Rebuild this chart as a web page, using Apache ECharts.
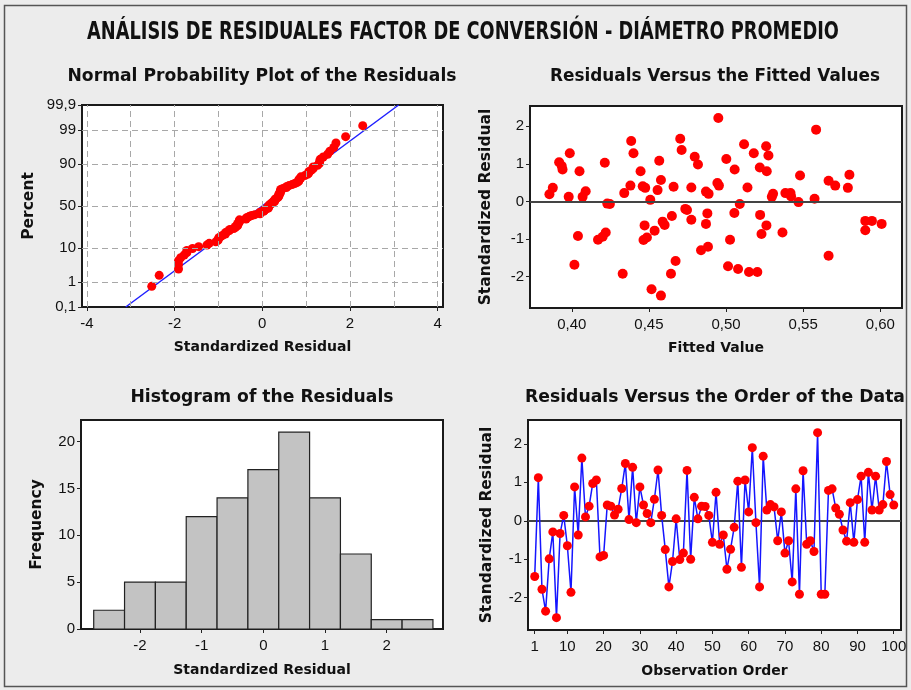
<!DOCTYPE html>
<html><head><meta charset="utf-8">
<script src="https://cdn.jsdelivr.net/npm/echarts@6/dist/echarts.min.js"></script>
<style>html,body{margin:0;padding:0;background:#ececec}#c{width:911px;height:690px}</style>
</head><body><div id="c"></div>
<script>
// ---------------- DATA ----------------
const mainTitle = 'ANÁLISIS DE RESIDUALES FACTOR DE CONVERSIÓN - DIÁMETRO PROMEDIO';
const panelTitles = ['Normal Probability Plot of the Residuals','Residuals Versus the Fitted Values','Histogram of the Residuals','Residuals Versus the Order of the Data'];

// standardized residuals in observation order (1..100)
const residuals = [
 -1.45, 1.12,-1.78,-2.35,-0.99,-0.29,-2.52,-0.33, 0.14,-0.65,
 -1.86, 0.88,-0.37, 1.63, 0.10, 0.38, 0.97, 1.06,-0.94,-0.90,
  0.41, 0.38, 0.15, 0.30, 0.84, 1.49, 0.03, 1.39,-0.05, 0.88,
  0.41, 0.19,-0.05, 0.56, 1.32, 0.14,-0.75,-1.72,-1.06, 0.05,
 -1.01,-0.84, 1.31,-1.00, 0.61, 0.05, 0.38, 0.37, 0.14,-0.56,
  0.74,-0.61,-0.37,-1.26,-0.74,-0.17, 1.03,-1.21, 1.06, 0.23,
  1.90,-0.05,-1.72, 1.68, 0.28, 0.42, 0.36,-0.52, 0.23,-0.84,
 -0.52,-1.59, 0.83,-1.91, 1.30,-0.61,-0.52,-0.80, 2.29,-1.91,
 -1.91, 0.79, 0.83, 0.33, 0.17,-0.24,-0.53, 0.47,-0.56, 0.55,
  1.16,-0.56, 1.26, 0.28, 1.16, 0.28, 0.42, 1.54, 0.68, 0.41
];

// residuals versus fitted values
const fittedX = [
 0.3855,0.3877,0.3918,0.3935,0.3940,0.3987,0.3980,0.4017,0.4040,0.4050,
 0.4070,0.4090,0.4170,0.4200,0.4220,0.4214,0.4230,0.4247,0.4330,0.4340,
 0.4385,0.4400,0.4380,0.4446,0.4460,0.4476,0.4472,0.4465,0.4487,0.4509,
 0.4517,0.4537,0.4556,0.4567,0.4578,0.4578,0.4589,0.4602,0.4643,0.4649,
 0.4660,0.4673,0.4703,0.4712,0.4736,0.4747,0.4775,0.4775,0.4797,0.4818,
 0.4838,0.4870,0.4879,0.4870,0.4883,0.4887,0.4944,0.4954,0.4950,0.5002,
 0.5013,0.5026,0.5056,0.5054,0.5089,0.5078,0.5117,0.5139,0.5149,0.5180,
 0.5203,0.5219,0.5221,0.5230,0.5260,0.5264,0.5262,0.5275,0.5297,0.5305,
 0.5366,0.5385,0.5418,0.5422,0.5470,0.5480,0.5574,0.5584,0.5665,0.5665,
 0.5708,0.5790,0.5800,0.5903,0.5903,0.5946,0.6009
];
const fittedRes = [
  0.19, 0.36, 1.04, 0.94, 0.85, 1.28, 0.12,-1.69,-0.92, 0.80,
  0.12, 0.27,-1.02,-0.94,-0.83, 1.03,-0.06,-0.07,-1.93, 0.22,
  1.61, 1.28, 0.42, 0.80, 0.40, 0.36,-0.64,-1.03,-0.96, 0.04,
 -2.34,-0.78, 0.30, 1.08, 0.57,-2.51,-0.54,-0.63,-1.93,-0.39,
  0.39,-1.59, 1.67, 1.37,-0.20,-0.23, 0.37,-0.49, 1.19, 0.98,
 -1.30, 0.26,-0.32,-0.60,-1.21, 0.20, 0.49, 0.42, 2.22, 1.13,
 -1.73,-1.02, 0.85,-0.31,-0.07,-1.80, 1.52, 0.37,-1.88, 1.28,
 -1.88, 0.90,-0.36,-0.87, 1.47, 0.80,-0.64, 1.22, 0.12, 0.20,
 -0.83, 0.22, 0.22, 0.13,-0.02, 0.69, 0.07, 1.91, 0.55,-1.45,
  0.42, 0.36, 0.71,-0.52,-0.77,-0.52,-0.60
];

// histogram
const histCenters = [-2.5,-2,-1.5,-1,-0.5,0,0.5,1,1.5,2,2.5];
const histCounts  = [2,5,5,12,14,17,21,14,8,1,1];
const histBinWidth = 0.5;

// tick labels
const probPctTicks = [0.1,1,10,50,90,99,99.9];
const probPctLabels = ['0,1','1','10','50','90','99','99,9'];
const probXTicks = [-4,-2,0,2,4];
const probXGrid = [-4,-3,-2,-1,0,1,2,3,4];
const fittedXTicks = [0.40,0.45,0.50,0.55,0.60];
const residTicks = [-2,-1,0,1,2];
const histXTicks = [-2,-1,0,1,2];
const histYTicks = [0,5,10,15,20];
const orderXTicks = [1,10,20,30,40,50,60,70,80,90,100];

// ---------------- HELPERS ----------------
function invNorm(p){
  const a=[-3.969683028665376e+01,2.209460984245205e+02,-2.759285104469687e+02,1.383577518672690e+02,-3.066479806614716e+01,2.506628277459239e+00];
  const b=[-5.447609879822406e+01,1.615858368580409e+02,-1.556989798598866e+02,6.680131188771972e+01,-1.328068155288572e+01];
  const c=[-7.784894002430293e-03,-3.223964580411365e-01,-2.400758277161838e+00,-2.549732539343734e+00,4.374664141464968e+00,2.938163982698783e+00];
  const d=[7.784695709041462e-03,3.224671290700398e-01,2.445134137142996e+00,3.754408661907416e+00];
  const pl=0.02425, ph=1-pl; let q,r;
  if(p<pl){q=Math.sqrt(-2*Math.log(p));return (((((c[0]*q+c[1])*q+c[2])*q+c[3])*q+c[4])*q+c[5])/((((d[0]*q+d[1])*q+d[2])*q+d[3])*q+1);}
  if(p<=ph){q=p-0.5;r=q*q;return (((((a[0]*r+a[1])*r+a[2])*r+a[3])*r+a[4])*r+a[5])*q/(((((b[0]*r+b[1])*r+b[2])*r+b[3])*r+b[4])*r+1);}
  q=Math.sqrt(-2*Math.log(1-p));return -(((((c[0]*q+c[1])*q+c[2])*q+c[3])*q+c[4])*q+c[5])/((((d[0]*q+d[1])*q+d[2])*q+d[3])*q+1);
}
const n = residuals.length;
const sorted = residuals.slice().sort((x,y)=>x-y);
const probPoints = sorted.map((v,i)=>[v, invNorm((i+1-0.3)/(n+0.4))]);
const mean = residuals.reduce((s,v)=>s+v,0)/n;
const sd = Math.sqrt(residuals.reduce((s,v)=>s+(v-mean)*(v-mean),0)/(n-1));
const pctZ = probPctTicks.map(p=>invNorm(p/100));
const zLo = pctZ[0], zHi = pctZ[pctZ.length-1];
const fitLine = [[mean+sd*zLo, zLo],[mean+sd*zHi, zHi]];

// text width fitting (titles use a wide bold font squeezed horizontally)
const mctx = document.createElement('canvas').getContext('2d');
function fitScale(text, font, target){ mctx.font = font; return target / mctx.measureText(text).width; }

// ---------------- STYLE ----------------
const TICKFONT = {fontFamily:'Liberation Sans', fontSize:15, color:'#111'};
const NAMEFONT = {fontFamily:'DejaVu Sans', fontSize:14, fontWeight:'bold', color:'#111'};
const YNAMEFONT = {fontFamily:'DejaVu Sans', fontSize:15.5, fontWeight:'bold', color:'#111'};
const tickStyle = {show:true, length:4, lineStyle:{color:'#222', width:1}};
const gridBase = {show:true, backgroundColor:'#fff', borderColor:'#1a1a1a', borderWidth:2};

function vAxis(o){
  return Object.assign({type:'value', scale:false, splitLine:{show:false}, axisLine:{show:false, onZero:false}, nameLocation:'middle', nameTextStyle:NAMEFONT}, o);
}

const grids = [
  Object.assign({left:82, top:105, width:361, height:202}, gridBase),
  Object.assign({left:530, top:106, width:372, height:202}, gridBase),
  Object.assign({left:81, top:420, width:362, height:209}, gridBase),
  Object.assign({left:528, top:420, width:373, height:210}, gridBase)
];

const xAxes = [
  vAxis({gridIndex:0, min:-4.11, max:4.12, name:'Standardized Residual', nameGap:33,
    axisTick:Object.assign({customValues:probXTicks}, tickStyle),
    axisLabel:Object.assign({customValues:probXTicks, margin:9}, TICKFONT)}),
  vAxis({gridIndex:1, min:0.3729, max:0.6141, name:'Fitted Value', nameGap:33,
    axisTick:Object.assign({customValues:fittedXTicks}, tickStyle),
    axisLabel:Object.assign({customValues:fittedXTicks, margin:9, formatter:v=>v.toFixed(2).replace('.',',')}, TICKFONT)}),
  vAxis({gridIndex:2, min:-2.956, max:2.913, name:'Standardized Residual', nameGap:34,
    axisTick:Object.assign({customValues:histXTicks}, tickStyle),
    axisLabel:Object.assign({customValues:histXTicks, margin:9}, TICKFONT)}),
  vAxis({gridIndex:3, min:-0.85, max:102, name:'Observation Order', nameGap:34,
    axisTick:Object.assign({customValues:orderXTicks}, tickStyle),
    axisLabel:Object.assign({customValues:orderXTicks, margin:9}, TICKFONT)})
];
const yAxes = [
  vAxis({gridIndex:0, min:zLo, max:zHi, name:'Percent', nameGap:45, nameTextStyle:YNAMEFONT,
    axisTick:Object.assign({customValues:pctZ}, tickStyle),
    axisLabel:Object.assign({customValues:pctZ, margin:6, formatter:v=>{
      let k=0,best=1e9; pctZ.forEach((z,i)=>{const d=Math.abs(z-v); if(d<best){best=d;k=i;}}); return probPctLabels[k];}}, TICKFONT)}),
  vAxis({gridIndex:1, min:-2.84, max:2.54, name:'Standardized Residual', nameGap:36, nameTextStyle:YNAMEFONT,
    axisTick:Object.assign({customValues:residTicks}, tickStyle),
    axisLabel:Object.assign({customValues:residTicks, margin:6}, TICKFONT)}),
  vAxis({gridIndex:2, min:0, max:22.3, name:'Frequency', nameGap:36, nameTextStyle:YNAMEFONT,
    axisTick:Object.assign({customValues:histYTicks}, tickStyle),
    axisLabel:Object.assign({customValues:histYTicks, margin:6}, TICKFONT)}),
  vAxis({gridIndex:3, min:-2.84, max:2.62, name:'Standardized Residual', nameGap:33, nameTextStyle:YNAMEFONT,
    axisTick:Object.assign({customValues:residTicks}, tickStyle),
    axisLabel:Object.assign({customValues:residTicks, margin:6}, TICKFONT)})
];

const dashed = {color:'#a8a8a8', width:1, type:[6,4]};
const series = [
  {type:'line', xAxisIndex:0, yAxisIndex:0, data:[], silent:true, z:1,
   markLine:{silent:true, symbol:'none', label:{show:false}, lineStyle:dashed, animation:false,
     data: probXGrid.map(v=>({xAxis:v})).concat(pctZ.slice(1,-1).map(z=>({yAxis:z})))}},
  {type:'line', xAxisIndex:0, yAxisIndex:0, data:fitLine, symbol:'none', z:2,
   lineStyle:{color:'#1f1fff', width:1.5}, animation:false},
  {type:'scatter', xAxisIndex:0, yAxisIndex:0, data:probPoints, symbolSize:9, z:3,
   itemStyle:{color:'#ff0000', opacity:1}, animation:false},
  {type:'scatter', xAxisIndex:1, yAxisIndex:1, data:fittedX.map((x,i)=>[x,fittedRes[i]]), symbolSize:10, z:3,
   itemStyle:{color:'#ff0000', opacity:1}, animation:false,
   markLine:{silent:true, symbol:'none', label:{show:false}, lineStyle:{color:'#444', width:2, type:'solid'}, animation:false, data:[{yAxis:0}]}},
  {type:'custom', xAxisIndex:2, yAxisIndex:2, animation:false,
   data: histCenters.map((c,i)=>[c-histBinWidth/2, c+histBinWidth/2, histCounts[i]]),
   encode:{x:[0,1], y:2},
   renderItem:(params, api)=>{
     const p0 = api.coord([api.value(0), api.value(2)]);
     const p1 = api.coord([api.value(1), 0]);
     return {type:'rect', shape:{x:p0[0], y:p0[1], width:p1[0]-p0[0], height:p1[1]-p0[1]},
       style:{fill:'#c3c3c3', stroke:'#222', lineWidth:1.2}};
   }},
  {type:'line', xAxisIndex:3, yAxisIndex:3, data:residuals.map((v,i)=>[i+1,v]), symbol:'circle', symbolSize:9, z:3,
   lineStyle:{color:'#1515ff', width:1.5}, itemStyle:{color:'#ff0000', opacity:1}, animation:false,
   markLine:{silent:true, symbol:'none', label:{show:false}, lineStyle:{color:'#444', width:2, type:'solid'}, animation:false, z:2, data:[{yAxis:0}]}}
];

function titleText(text, cx, cy, size, target){
  const font = 'bold ' + size + 'px "DejaVu Sans"';
  return {type:'text', x:cx, y:cy, scaleX:fitScale(text, font, target), silent:true,
    style:{text:text, fontFamily:'DejaVu Sans', fontWeight:'bold', fontSize:size, fill:'#111', align:'center', verticalAlign:'middle'}};
}

const graphic = [
  {type:'rect', shape:{x:4.5, y:5.5, width:902, height:681}, style:{fill:null, stroke:'#555', lineWidth:1.5}, silent:true},
  titleText(mainTitle, 463, 33, 24, 752),
  titleText(panelTitles[0], 262, 76, 18, 389),
  titleText(panelTitles[1], 715, 76, 18, 330),
  titleText(panelTitles[2], 262, 398, 17, 263),
  titleText(panelTitles[3], 715, 398, 17, 380)
];

const chart = echarts.init(document.getElementById('c'));
chart.setOption({backgroundColor:'#ececec', animation:false, grid:grids, xAxis:xAxes, yAxis:yAxes, series:series, graphic:graphic});
</script></body></html>
